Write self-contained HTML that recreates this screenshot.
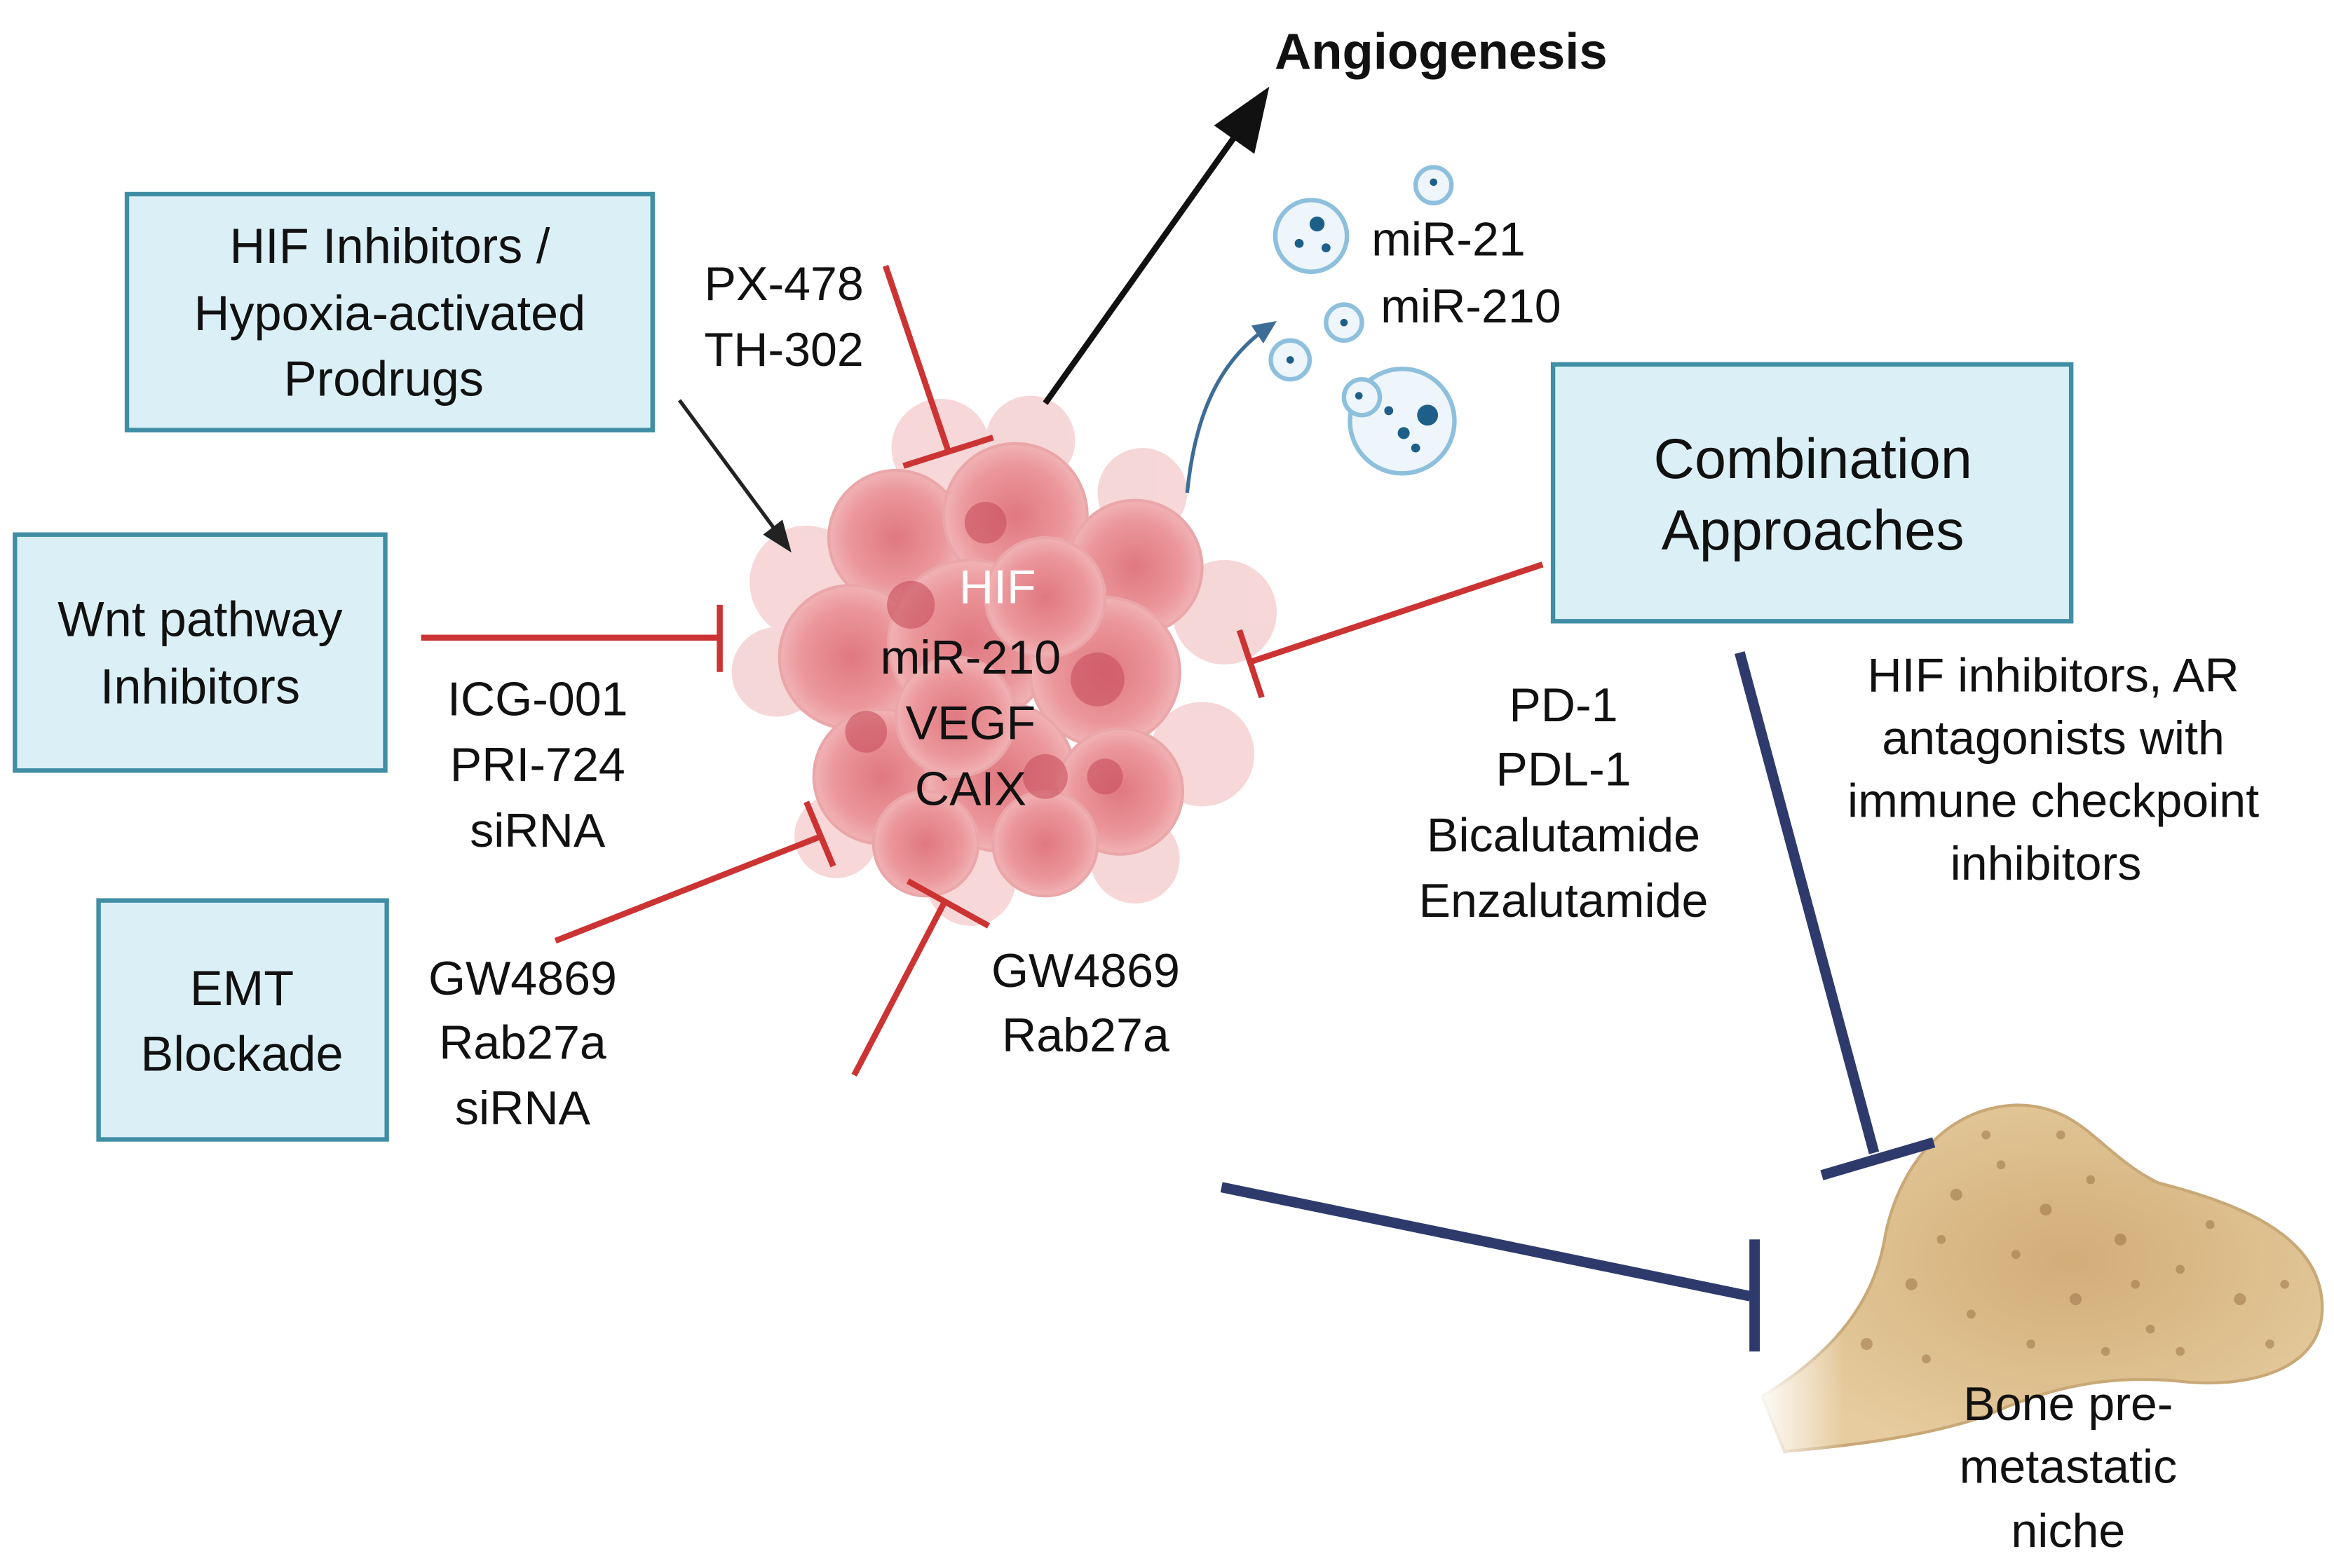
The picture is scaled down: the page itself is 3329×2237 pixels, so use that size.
<!DOCTYPE html>
<html><head><meta charset="utf-8">
<style>
html,body{margin:0;padding:0;background:#fff;}
svg{display:block;}
text{font-family:"Liberation Sans",sans-serif;fill:#111;text-anchor:middle;}
</style></head>
<body>
<svg width="3329" height="2237" viewBox="0 0 1563 1050" preserveAspectRatio="none" xmlns="http://www.w3.org/2000/svg">
<defs>
<radialGradient id="cell" cx="50%" cy="50%" r="50%">
<stop offset="0" stop-color="#e07880"/><stop offset="0.7" stop-color="#eb979b"/><stop offset="1" stop-color="#f1b3b5"/>
</radialGradient>
<radialGradient id="bone" cx="55%" cy="45%" r="60%">
<stop offset="0" stop-color="#d2ad78"/><stop offset="1" stop-color="#e6cc9f"/>
</radialGradient>
<linearGradient id="fade" x1="0" y1="0" x2="1" y2="0">
<stop offset="0" stop-color="#fff" stop-opacity="1"/><stop offset="1" stop-color="#fff" stop-opacity="0"/>
</linearGradient>
</defs>
<rect width="1563" height="1050" fill="#fff"/>

<g fill="#dbf0f6" stroke="#3f8ea6" stroke-width="3">
<rect x="85" y="130" width="352" height="158"/>
<rect x="10" y="358" width="248" height="158"/>
<rect x="66" y="603" width="193" height="160"/>
<rect x="1040" y="244" width="347" height="172"/>
</g>
<g font-size="33">
<text x="261" y="176">HIF Inhibitors /</text>
<text x="261" y="221">Hypoxia-activated</text>
<text x="257" y="265">Prodrugs</text>
<text x="134" y="426">Wnt pathway</text>
<text x="134" y="471">Inhibitors</text>
<text x="162" y="673">EMT</text>
<text x="162" y="717">Blockade</text>
</g>
<g font-size="38">
<text x="1214" y="320">Combination</text>
<text x="1214" y="368">Approaches</text>
</g>

<g fill="#f6d3d4" opacity="0.9">
<circle cx="540" cy="390" r="38"/><circle cx="520" cy="450" r="30"/><circle cx="820" cy="410" r="35"/>
<circle cx="805" cy="505" r="35"/><circle cx="760" cy="575" r="30"/><circle cx="630" cy="300" r="33"/>
<circle cx="690" cy="295" r="30"/><circle cx="765" cy="330" r="30"/><circle cx="650" cy="590" r="30"/>
<circle cx="560" cy="560" r="28"/>
</g>
<g fill="url(#cell)" stroke="#eaa6a8" stroke-width="2">
<circle cx="600" cy="360" r="45"/><circle cx="680" cy="345" r="48"/><circle cx="760" cy="380" r="45"/>
<circle cx="570" cy="440" r="48"/><circle cx="650" cy="430" r="55"/><circle cx="740" cy="450" r="50"/>
<circle cx="590" cy="520" r="45"/><circle cx="670" cy="520" r="50"/><circle cx="750" cy="530" r="42"/>
<circle cx="620" cy="565" r="35"/><circle cx="700" cy="565" r="35"/><circle cx="700" cy="400" r="40"/>
<circle cx="640" cy="480" r="40"/>
</g>
<g fill="#c84f5b" opacity="0.6">
<circle cx="610" cy="405" r="16"/><circle cx="735" cy="455" r="18"/><circle cx="660" cy="350" r="14"/>
<circle cx="580" cy="490" r="14"/><circle cx="700" cy="520" r="15"/><circle cx="740" cy="520" r="12"/>
</g>
<g font-size="32">
<text x="668" y="404" style="fill:#fff">HIF</text>
<text x="650" y="451">miR-210</text>
<text x="650" y="495">VEGF</text>
<text x="650" y="539">CAIX</text>
</g>

<line x1="700" y1="270" x2="830" y2="87" stroke="#111" stroke-width="4"/>
<polygon points="850,58 840,103 813,84" fill="#111"/>
<line x1="455" y1="268" x2="520" y2="356" stroke="#222" stroke-width="2.5"/>
<polygon points="530,370 511,358 524,348" fill="#222"/>
<text x="965" y="46" font-size="34" font-weight="bold">Angiogenesis</text>

<path d="M795,330 C800,280 815,245 845,222" fill="none" stroke="#3d6c96" stroke-width="2.5"/>
<polygon points="855,215 838,218 846,230" fill="#3d6c96"/>

<g fill="#eef6fb" stroke="#8ec0de" stroke-width="3">
<circle cx="878" cy="158" r="24"/><circle cx="960" cy="124" r="12"/><circle cx="900" cy="216" r="12"/>
<circle cx="864" cy="241" r="13"/><circle cx="939" cy="282" r="35"/><circle cx="912" cy="266" r="12"/>
</g>
<g fill="#1e5f8a">
<circle cx="882" cy="150" r="5"/><circle cx="870" cy="163" r="3"/><circle cx="888" cy="166" r="3"/>
<circle cx="956" cy="278" r="7"/><circle cx="940" cy="290" r="4"/><circle cx="930" cy="275" r="3"/><circle cx="948" cy="300" r="3"/>
<circle cx="960" cy="122" r="2.5"/><circle cx="900" cy="216" r="2.5"/><circle cx="864" cy="241" r="2.5"/><circle cx="910" cy="265" r="2.5"/>
</g>
<g font-size="32">
<text x="970" y="171">miR-21</text>
<text x="985" y="216">miR-210</text>
</g>

<g stroke="#cc3333" stroke-width="4" fill="none">
<line x1="593" y1="178" x2="635" y2="302"/><line x1="605" y1="312" x2="665" y2="293"/>
<line x1="282" y1="427" x2="482" y2="427"/><line x1="482" y1="405" x2="482" y2="450"/>
<line x1="372" y1="630" x2="550" y2="560"/><line x1="540" y1="537" x2="558" y2="580"/>
<line x1="572" y1="720" x2="632" y2="605"/><line x1="608" y1="590" x2="662" y2="620"/>
<line x1="1033" y1="378" x2="838" y2="443"/><line x1="830" y1="422" x2="845" y2="467"/>
</g>

<path d="M1180,935 C1230,905 1255,870 1262,830 C1270,785 1300,742 1350,740 C1395,740 1405,772 1445,792 C1495,805 1552,825 1555,872 C1558,918 1505,930 1460,925 C1410,920 1370,930 1330,948 C1290,962 1240,968 1195,972 Z" fill="url(#bone)" stroke="#c9a877" stroke-width="2"/>
<g fill="#9c7648" opacity="0.55">
<circle cx="1310" cy="800" r="4"/><circle cx="1340" cy="780" r="3"/><circle cx="1370" cy="810" r="4"/>
<circle cx="1420" cy="830" r="4"/><circle cx="1460" cy="850" r="3"/><circle cx="1500" cy="870" r="4"/>
<circle cx="1280" cy="860" r="4"/><circle cx="1320" cy="880" r="3"/><circle cx="1390" cy="870" r="4"/>
<circle cx="1440" cy="890" r="3"/><circle cx="1250" cy="900" r="4"/><circle cx="1520" cy="900" r="3"/>
<circle cx="1350" cy="840" r="3"/><circle cx="1400" cy="790" r="3"/><circle cx="1480" cy="820" r="3"/>
<circle cx="1300" cy="830" r="3"/><circle cx="1360" cy="900" r="3"/><circle cx="1410" cy="905" r="3"/>
<circle cx="1460" cy="905" r="3"/><circle cx="1530" cy="860" r="3"/><circle cx="1290" cy="910" r="3"/>
<circle cx="1380" cy="760" r="3"/><circle cx="1330" cy="760" r="3"/><circle cx="1430" cy="860" r="3"/>
</g>
<rect x="1175" y="860" width="60" height="120" fill="url(#fade)"/>

<g stroke="#2e3a6b" stroke-width="7" fill="none">
<line x1="1165" y1="437" x2="1255" y2="772"/><line x1="1220" y1="787" x2="1295" y2="765"/>
<line x1="818" y1="795" x2="1172" y2="868"/><line x1="1175" y1="830" x2="1175" y2="905"/>
</g>

<g font-size="32">
<text x="525" y="201">PX-478</text>
<text x="525" y="245">TH-302</text>
<text x="360" y="479">ICG-001</text>
<text x="360" y="523">PRI-724</text>
<text x="360" y="567">siRNA</text>
<text x="350" y="666">GW4869</text>
<text x="350" y="709">Rab27a</text>
<text x="350" y="753">siRNA</text>
<text x="727" y="661">GW4869</text>
<text x="727" y="704">Rab27a</text>
<text x="1047" y="483">PD-1</text>
<text x="1047" y="526">PDL-1</text>
<text x="1047" y="570">Bicalutamide</text>
<text x="1047" y="614">Enzalutamide</text>
<text x="1375" y="463">HIF inhibitors, AR</text>
<text x="1375" y="505">antagonists with</text>
<text x="1375" y="547">immune checkpoint</text>
<text x="1370" y="589">inhibitors</text>
<text x="1385" y="951">Bone pre-</text>
<text x="1385" y="993">metastatic</text>
<text x="1385" y="1036">niche</text>
</g>
</svg>
</body></html>
